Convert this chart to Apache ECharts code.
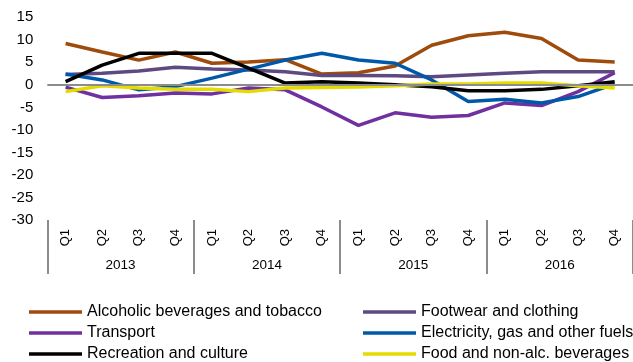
<!DOCTYPE html>
<html>
<head>
<meta charset="utf-8">
<script src="https://cdn.jsdelivr.net/npm/echarts@6/dist/echarts.min.js"></script>
<style>html,body{margin:0;padding:0;background:#fff}#c{width:633px;height:362px}</style>
</head>
<body>
<div id="c"></div>
<script>
const quarters = ['Q1','Q2','Q3','Q4','Q1','Q2','Q3','Q4','Q1','Q2','Q3','Q4','Q1','Q2','Q3','Q4'];
const years = ['2013','2014','2015','2016'];
const yTicks = {min: -30, max: 15, interval: 5};

const alcoholic = [9.2, 7.3, 5.5, 7.3, 4.8, 5.1, 5.6, 2.4, 2.7, 4.2, 8.8, 10.9, 11.7, 10.3, 5.5, 5.1];
const footwear = [2.3, 2.6, 3.1, 3.9, 3.5, 3.3, 2.9, 2.1, 2.1, 2.0, 1.8, 2.2, 2.6, 2.9, 2.9, 2.9];
const transport = [-0.5, -2.8, -2.4, -1.8, -2.0, -0.7, -1.1, -4.9, -9.0, -6.2, -7.2, -6.8, -4.0, -4.6, -1.5, 2.7];
const electricity = [2.4, 1.1, -1.1, -0.4, 1.5, 3.5, 5.5, 7.0, 5.5, 4.8, 1.1, -3.7, -3.2, -4.0, -2.6, 0.2];
const recreation = [0.7, 4.4, 7.0, 7.0, 7.0, 3.7, 0.4, 0.7, 0.4, 0.0, -0.4, -1.3, -1.3, -1.0, -0.2, 0.7];
const food = [-1.5, -0.2, -0.7, -1.0, -1.0, -1.5, -0.7, -0.6, -0.5, -0.2, 0.2, 0.2, 0.4, 0.4, -0.2, -0.7];

const names = ['Alcoholic beverages and tobacco','Footwear and clothing','Transport','Electricity, gas and other fuels','Recreation and culture','Food and non-alc. beverages'];
const values = [alcoholic, footwear, transport, electricity, recreation, food];
const colors = ['#9e4b0c','#5e4a80','#7030a0','#0058a8','#000000','#e4dc00'];

const chart = echarts.init(document.getElementById('c'));
const series = names.map((n, i) => {
  const s = {
    name: n, type: 'line', data: values[i], symbol: 'none', smooth: false,
    lineStyle: {color: colors[i], width: 3.5}, itemStyle: {color: colors[i]},
    animation: false
  };
  if (i === 0) {
    s.markLine = {
      silent: true, symbol: 'none', label: {show: false},
      lineStyle: {color: '#8c8c8c', width: 2, type: 'solid'},
      data: [{yAxis: 0}], animation: false
    };
  }
  return s;
});

const font = 'Arial, "Liberation Sans", sans-serif';
const legendLeft = [29, 363];
const legendTop = [304, 325, 346];
const legends = names.map((n, i) => ({
  data: [n], orient: 'horizontal',
  left: legendLeft[i % 2], top: legendTop[Math.floor(i / 2)],
  icon: 'rect', itemWidth: 53, itemHeight: 3.5, itemGap: 0,
  textStyle: {fontSize: 16, color: '#000', fontFamily: font},
  padding: 0, selectedMode: false
}));

chart.setOption({
  animation: false,
  grid: {left: 47.3, right: -8.2, top: 17.3, bottom: 142, containLabel: false},
  xAxis: [
    {
      type: 'category', data: quarters, position: 'bottom', boundaryGap: true,
      axisLine: {show: false, onZero: false},
      axisTick: {show: true, length: 54, interval: (i) => i % 4 === 0, lineStyle: {color: '#8c8c8c', width: 2}},
      axisLabel: {rotate: 90, margin: 9, fontSize: 13, color: '#000', fontFamily: font, interval: 0}
    },
    {
      type: 'category', data: years, position: 'bottom', boundaryGap: true,
      axisLine: {show: false, onZero: false}, axisTick: {show: false},
      axisLabel: {margin: 38, fontSize: 13.5, color: '#000', fontFamily: font, interval: 0}
    }
  ],
  yAxis: {
    type: 'value', min: yTicks.min, max: yTicks.max, interval: yTicks.interval,
    axisLine: {show: false}, axisTick: {show: false}, splitLine: {show: false},
    axisLabel: {margin: 14, fontSize: 15, color: '#000', fontFamily: font}
  },
  legend: legends,
  series: series
});
</script>
</body>
</html>
